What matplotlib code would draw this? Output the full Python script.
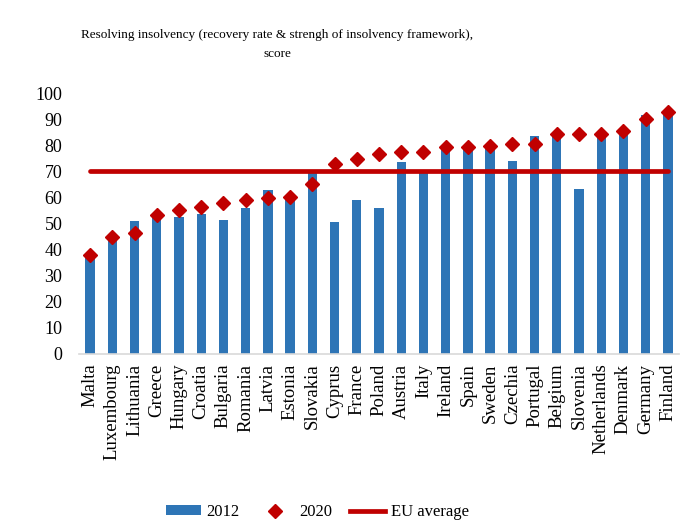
"""Resolving insolvency score by country, 2012 vs 2020."""

import matplotlib
matplotlib.use('Agg')
import matplotlib.pyplot as plt
from matplotlib.lines import Line2D
from matplotlib.patches import Patch
import numpy as np

countries = ['Malta', 'Luxembourg', 'Lithuania', 'Greece', 'Hungary', 'Croatia',
             'Bulgaria', 'Romania', 'Latvia', 'Estonia', 'Slovakia', 'Cyprus',
             'France', 'Poland', 'Austria', 'Italy', 'Ireland', 'Spain', 'Sweden',
             'Czechia', 'Portugal', 'Belgium', 'Slovenia', 'Netherlands', 'Denmark',
             'Germany', 'Finland']
score_2012 = [37.9, 44.9, 51.0, 53.3, 52.6, 53.6, 51.3, 56.1, 62.7, 60.3, 69.9, 50.6,
              59.1, 56.1, 73.6, 70.5, 79.1, 79.1, 79.1, 73.9, 83.7, 83.3, 63.3, 83.6,
              84.5, 91.6, 92.6]
score_2020 = [38.0, 45.0, 46.2, 53.3, 55.3, 56.4, 57.8, 59.1, 59.8, 60.3, 65.3, 72.9,
              74.7, 76.6, 77.5, 77.5, 79.5, 79.5, 79.9, 80.3, 80.3, 84.3, 84.5, 84.5,
              85.3, 89.9, 92.6]
eu_average = 70.2

BAR_BLUE = '#2E75B6'
DARK_RED = '#C00000'

plt.rcParams['font.family'] = ['Liberation Serif', 'DejaVu Serif']

fig = plt.figure(figsize=(6.81, 5.29), dpi=100)
ax = fig.add_axes([0.116, 0.331, 0.881, 0.493])

x = np.arange(len(countries))
ax.bar(x, score_2012, width=0.42, color=BAR_BLUE, zorder=2)
ax.plot([x[0], x[-1]], [eu_average, eu_average], color=DARK_RED, linewidth=3.4,
        solid_capstyle='round', zorder=3)
ax.plot(x, score_2020, linestyle='none', marker='D', markersize=7.2,
        color=DARK_RED, zorder=4)

ax.set_xlim(-0.5, len(countries) - 0.5)
ax.set_ylim(0, 100)
ax.set_yticks(range(0, 101, 10))
ax.set_xticks(x)
ax.set_xticklabels(countries, rotation=90, fontsize=13.5)
ax.tick_params(axis='y', labelsize=13, length=0, pad=12)
ax.tick_params(axis='x', length=0, pad=7)

for side in ['top', 'right', 'left']:
    ax.spines[side].set_visible(False)
ax.spines['bottom'].set_color('#D9D9D9')
ax.spines['bottom'].set_linewidth(1.2)

fig.text(0.407, 0.916, 'Resolving insolvency (recovery rate & strengh of insolvency framework),\nscore',
         ha='center', va='center', fontsize=9.5, linespacing=1.75)

handles = [Patch(facecolor=BAR_BLUE),
           Line2D([], [], linestyle='none', marker='D', markersize=7, color=DARK_RED),
           Line2D([], [], color=DARK_RED, linewidth=3.4)]
fig.legend(handles, ['2012', '2020', 'EU average'], loc='center',
           bbox_to_anchor=(0.466, 0.032), ncol=3, frameon=False, fontsize=12,
           handlelength=2.1, handleheight=0.5, handletextpad=0.35, columnspacing=1.1)

plt.savefig('out.png', dpi=100)
plt.close()
